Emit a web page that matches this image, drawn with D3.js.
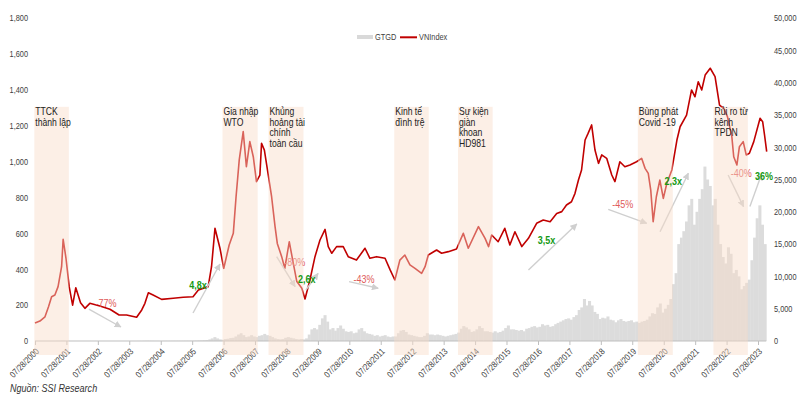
<!DOCTYPE html>
<html>
<head>
<meta charset="utf-8">
<script src="https://cdn.jsdelivr.net/npm/d3@7"></script>
<style>
body{margin:0;background:#fff;}
svg text{font-family:"Liberation Sans Narrow","Arial Narrow","Liberation Sans",Arial,sans-serif;}
</style>
</head>
<body>
<svg id="chart" width="810" height="399"></svg>
<script>
// VNIndex
const vnDates = ["2000-07-28","2000-09-23","2000-11-21","2001-01-01","2001-02-06","2001-03-16","2001-04-22","2001-06-02","2001-06-20","2001-07-23","2001-08-29","2001-10-08","2001-11-14",
"2002-01-08","2002-02-28","2002-04-26","2002-08-21","2002-12-16","2003-04-01","2003-06-27","2003-10-22","2003-12-20",
"2004-01-26","2004-03-06","2004-04-30","2004-08-07","2004-12-20","2005-04-15","2005-08-07","2005-10-08",
"2006-01-30","2006-03-10","2006-04-19","2006-06-16","2006-07-30","2006-10-01","2006-11-18","2006-12-20",
"2007-01-26","2007-03-13","2007-04-19","2007-05-29","2007-07-08","2007-08-14","2007-09-23","2007-10-12","2007-11-14",
"2008-01-01","2008-02-06","2008-03-17","2008-04-12","2008-06-02","2008-07-08","2008-08-29","2008-10-15","2008-11-25",
"2009-01-22","2009-02-28","2009-04-26","2009-06-24","2009-08-21","2009-10-19","2009-11-25",
"2010-01-05","2010-03-02","2010-05-18","2010-07-15","2010-10-19","2011-01-26","2011-03-24","2011-06-09","2011-09-16","2011-11-14",
"2012-01-08","2012-03-06","2012-05-03","2012-07-01","2012-08-29","2012-11-14","2012-12-24",
"2013-01-30","2013-05-07","2013-07-04","2013-09-20","2013-12-24","2014-03-13","2014-05-10","2014-09-05","2014-11-21",
"2015-01-01","2015-02-06","2015-04-22","2015-07-08","2015-09-05","2015-11-03","2016-01-22","2016-04-08","2016-07-12","2016-09-27","2016-12-16",
"2017-03-02","2017-04-30","2017-06-24","2017-08-21","2017-10-01","2017-11-10","2017-12-16",
"2018-01-26","2018-03-02","2018-04-12","2018-05-21","2018-07-01","2018-08-07","2018-10-04","2018-12-02",
"2019-01-08","2019-03-06","2019-05-03","2019-07-01","2019-09-16","2019-11-14","2019-12-24",
"2020-01-30","2020-02-28","2020-03-27","2020-05-03","2020-06-13","2020-07-23","2020-09-02","2020-10-30","2020-12-28",
"2021-02-03","2021-04-19","2021-06-16","2021-07-26","2021-09-02","2021-10-12","2021-11-21",
"2022-01-19","2022-03-16","2022-05-07","2022-06-24","2022-08-07","2022-09-27","2022-10-19","2022-11-25","2022-12-24",
"2023-02-06","2023-03-13","2023-04-19","2023-06-09","2023-08-21","2023-09-20","2023-10-12","2023-11-06"];
const vnValues = [100,111,135,191,247,256,303,414,567,461,303,200,297,
213,182,210,195,177,145,145,132,173,
210,269,256,232,238,244,247,284,
303,414,628,517,405,535,600,804,
1009,1167,971,1111,1027,888,925,1102,1064,
916,804,637,544,470,405,553,433,331,
294,234,340,470,563,622,526,
489,526,526,470,451,517,461,470,461,396,
340,451,479,424,405,377,414,
479,507,489,498,513,600,517,637,572,
526,591,553,628,535,609,526,572,656,674,665,
711,721,758,776,823,897,953,
1120,1157,1204,1064,990,1037,1018,925,
888,999,971,981,999,1018,962,
934,841,665,804,897,795,879,953,1120,
1194,1259,1399,1361,1445,1399,1482,
1520,1473,1315,1297,1250,1139,1027,981,1083,
1111,1037,1046,1111,1241,1222,1148,1055];

// GTGD, monthly, from Jul 2000 to Oct 2023
const volStart = "2000-07";
const volValues = [
2,3,3,4,4,5,
6,8,10,15,25,30,20,15,10,8,8,6,
8,8,8,10,12,10,10,8,8,8,10,10,
8,8,6,6,6,8,8,10,10,12,15,20,
30,40,35,30,25,25,20,20,25,25,25,30,
30,30,30,35,40,40,40,50,60,80,100,120,
150,250,400,600,400,250,200,300,350,450,500,700,
1000,1200,900,600,700,900,700,600,800,900,1100,900,
800,600,400,300,250,300,500,600,500,400,300,250,
300,250,400,1000,1800,2000,1800,2500,3500,4000,3000,1800,
2000,1600,2000,2400,1900,1500,1400,1500,1200,1300,1800,2000,
1500,1200,1100,1000,800,900,700,800,900,700,600,700,
700,1200,1600,1700,1400,1000,900,800,700,600,600,800,
1200,1000,1000,900,1000,900,800,700,800,900,1000,1100,
1300,1900,2300,2100,1800,1400,1500,1800,2300,2000,1500,1500,
1400,1300,1500,1300,1400,1600,2000,2400,1800,1800,1700,1600,
1700,1500,1900,2000,2200,2300,2100,2200,2600,2400,2500,2200,
2300,2600,2800,3000,3200,3400,3500,3300,3700,4000,4800,5200,
6500,5500,6200,5500,4500,4200,3400,3600,3500,3800,3300,3200,
2900,3200,3400,3100,3000,3100,3200,2900,3000,2800,3000,3100,
3300,3800,4300,4200,5200,5800,4400,5000,5600,6500,8800,10500,
15000,16000,17000,18500,21000,22000,18000,20000,22000,23500,27000,25000,
24000,21000,22000,18000,15000,13000,12000,14500,13500,10500,11000,10000,
8000,8500,9000,9500,12500,16000,19000,21000,18000,15000];

// events
const eventStarts = ["2000-07-20","2006-07-15","2008-01-01","2012-01-01","2014-01-10","2019-10-01","2022-02-25"];
const eventEnds   = ["2001-08-25","2007-08-28","2009-02-10","2013-02-05","2015-02-17","2020-11-10","2023-04-01"];
const eventLabels = [["TTCK","thành lập"],["Gia nhập","WTO"],["Khủng","hoảng tài","chính","toàn cầu"],["Kinh tế","đình trệ"],
  ["Sự kiện","giàn","khoan","HD981"],["Bùng phát","Covid -19"],["Rủi ro từ","kênh","TPDN"]];

// move annotations
const noteTexts  = ["-77%","4,8x","-80%","2,6x","-43%","3,5x","-45%","2,3x","-40%","36%"];
const noteUp     = [false,true,false,true,false,true,false,true,false,true];
const noteDates  = ["2002-10-30","2005-10-05","2008-11-01","2009-03-20","2011-01-15","2016-11-05","2019-04-10","2020-11-15","2023-01-15","2023-10-05"];
const noteValues = [190,290,418,326,326,541,741,870,916,897];
const arrowFromDates  = ["2002-04-15","2005-08-07","2008-04-05","2009-03-10","2010-07-25","2016-04-08","2018-10-22","2020-06-15","2022-08-15","2023-04-25"];
const arrowFromValues = [178,156,470,284,331,396,734,609,925,749];
const arrowToDates    = ["2003-04-22","2006-06-16","2008-11-05","2009-07-30","2011-06-28","2017-10-22","2020-01-12","2021-05-10","2023-02-10","2023-09-08"];
const arrowToValues   = [78,429,303,377,294,652,656,935,749,931];

const tickYears = d3.range(2000, 2024);
const leftTicks = d3.range(0, 1801, 200);
const rightTicks = d3.range(0, 50001, 5000);

const parse = d3.timeParse("%Y-%m-%d");
const svg = d3.select("#chart");
const squeeze = 0.82; // the source font is a narrow one

const x = d3.scaleTime().domain([new Date(2000,6,28), new Date(2023,6,28)]).range([35, 758]);
const yL = d3.scaleLinear().domain([0,1800]).range([341,18]);
const yR = d3.scaleLinear().domain([0,50000]).range([341,18]);

// volume bars
const m0 = d3.timeParse("%Y-%m")(volStart);
const vol = volValues.map((v,i) => ({d: d3.timeMonth.offset(m0, i), v: v}));
const endDate = d3.timeMonth.offset(m0, volValues.length);
svg.append("g").selectAll("rect").data(vol).join("rect")
  .attr("x", d => x(d.d))
  .attr("width", d => x(d3.timeMonth.offset(d.d,1)) - x(d.d) + 0.4)
  .attr("y", d => yR(d.v))
  .attr("height", d => yR(0) - yR(d.v))
  .attr("fill", "#dcdcdc");

// baseline + x axis
svg.append("line").attr("x1", x(new Date(2000,6,28))).attr("x2", x(endDate))
  .attr("y1", yL(0)).attr("y2", yL(0)).attr("stroke", "#bfbfbf");
const xa = svg.append("g").attr("transform", "translate(0," + yL(0) + ")")
  .call(d3.axisBottom(x).tickValues(tickYears.map(y => new Date(y,6,28)))
    .tickFormat(d3.timeFormat("%m/%d/%Y")).tickSize(4));
xa.select(".domain").remove();
xa.selectAll("line").attr("stroke", "#bfbfbf");
xa.selectAll("text").attr("transform", "translate(2,9) rotate(-45) scale(" + squeeze + ",1)")
  .attr("x", 0).attr("y", 0).attr("dy", "0.32em").attr("text-anchor", "end")
  .attr("fill", "#404040").style("font-size", "9px");

const la = svg.append("g").attr("transform", "translate(28,0)")
  .call(d3.axisLeft(yL).tickValues(leftTicks).tickFormat(d3.format(",")).tickSize(0).tickPadding(0));
la.select(".domain").remove();
la.selectAll("text").attr("fill", "#404040").style("font-size", "9px")
  .attr("transform", "scale(" + squeeze + ",1)");

const ra = svg.append("g").attr("transform", "translate(774,0)")
  .call(d3.axisRight(yR).tickValues(rightTicks).tickFormat(d3.format(",")).tickSize(0).tickPadding(0));
ra.select(".domain").remove();
ra.selectAll("text").attr("fill", "#404040").style("font-size", "9px")
  .attr("transform", "scale(" + squeeze + ",1)");

// VNIndex line
const vn = vnDates.map((d,i) => ({d: parse(d), v: vnValues[i]}));
svg.append("path").datum(vn)
  .attr("d", d3.line().x(d => x(d.d)).y(d => yL(d.v)))
  .attr("fill", "none").attr("stroke", "#c00000").attr("stroke-width", 1.6)
  .attr("stroke-linejoin", "round");

// arrows
const defs = svg.append("defs");
defs.append("marker").attr("id", "ah").attr("viewBox", "0 0 10 10")
  .attr("refX", 9).attr("refY", 5).attr("markerWidth", 5).attr("markerHeight", 5)
  .attr("orient", "auto").append("path").attr("d", "M0,0L10,5L0,10z").attr("fill", "#cfcfcf");
svg.append("g").selectAll("line").data(noteTexts).join("line")
  .attr("x1", (t,i) => x(parse(arrowFromDates[i]))).attr("y1", (t,i) => yL(arrowFromValues[i]))
  .attr("x2", (t,i) => x(parse(arrowToDates[i]))).attr("y2", (t,i) => yL(arrowToValues[i]))
  .attr("stroke", "#cfcfcf").attr("stroke-width", 1.4).attr("marker-end", "url(#ah)");

// red labels go under the bands, green ones over
function notes(up) {
  svg.append("g").selectAll("text").data(noteTexts.map((t,i) => i).filter(i => noteUp[i] === up)).join("text")
    .attr("transform", i => "translate(" + x(parse(noteDates[i])) + "," + yL(noteValues[i]) + ") scale(" + squeeze + ",1)")
    .attr("text-anchor", "middle")
    .attr("fill", up ? "#159a15" : "#e05a5a")
    .style("font-weight", up ? "bold" : "normal")
    .style("font-size", "11px")
    .text(i => noteTexts[i]);
}
notes(false);

// event bands
const bandTop = yL(1305);
svg.append("g").selectAll("rect").data(eventStarts).join("rect")
  .attr("x", (d,i) => x(parse(d)))
  .attr("width", (d,i) => x(parse(eventEnds[i])) - x(parse(d)))
  .attr("y", bandTop).attr("height", yL(0) + 14 - bandTop)
  .attr("fill", "#f8dcc8").attr("opacity", 0.45);

notes(true);

const ev = svg.append("g");
eventLabels.forEach((lines, i) => {
  const t = ev.append("text")
    .attr("transform", "translate(" + (x(parse(eventStarts[i])) + 1) + "," + (bandTop + 8) + ") scale(" + squeeze + ",1)")
    .attr("fill", "#222").style("font-size", "10.5px");
  lines.forEach((s, j) => t.append("tspan").attr("x", 0)
    .attr("dy", j === 0 ? 0 : 10.8).text(s));
});

// legend
const lg = svg.append("g").style("font-size", "9px");
lg.append("rect").attr("x", 357).attr("y", 35).attr("width", 16).attr("height", 4).attr("fill", "#d9d9d9");
lg.append("text").attr("transform", "translate(375,40) scale(" + squeeze + ",1)").attr("fill", "#404040").text("GTGD");
lg.append("line").attr("x1", 400).attr("x2", 417).attr("y1", 37.3).attr("y2", 37.3).attr("stroke", "#c00000").attr("stroke-width", 2);
lg.append("text").attr("transform", "translate(419,40) scale(" + squeeze + ",1)").attr("fill", "#404040").text("VNIndex");

// source
svg.append("text").attr("transform", "translate(10,392) scale(" + squeeze + ",1)").attr("fill", "#333")
  .style("font-style", "italic").style("font-size", "11px").text("Nguồn: SSI Research");
</script>
</body>
</html>
